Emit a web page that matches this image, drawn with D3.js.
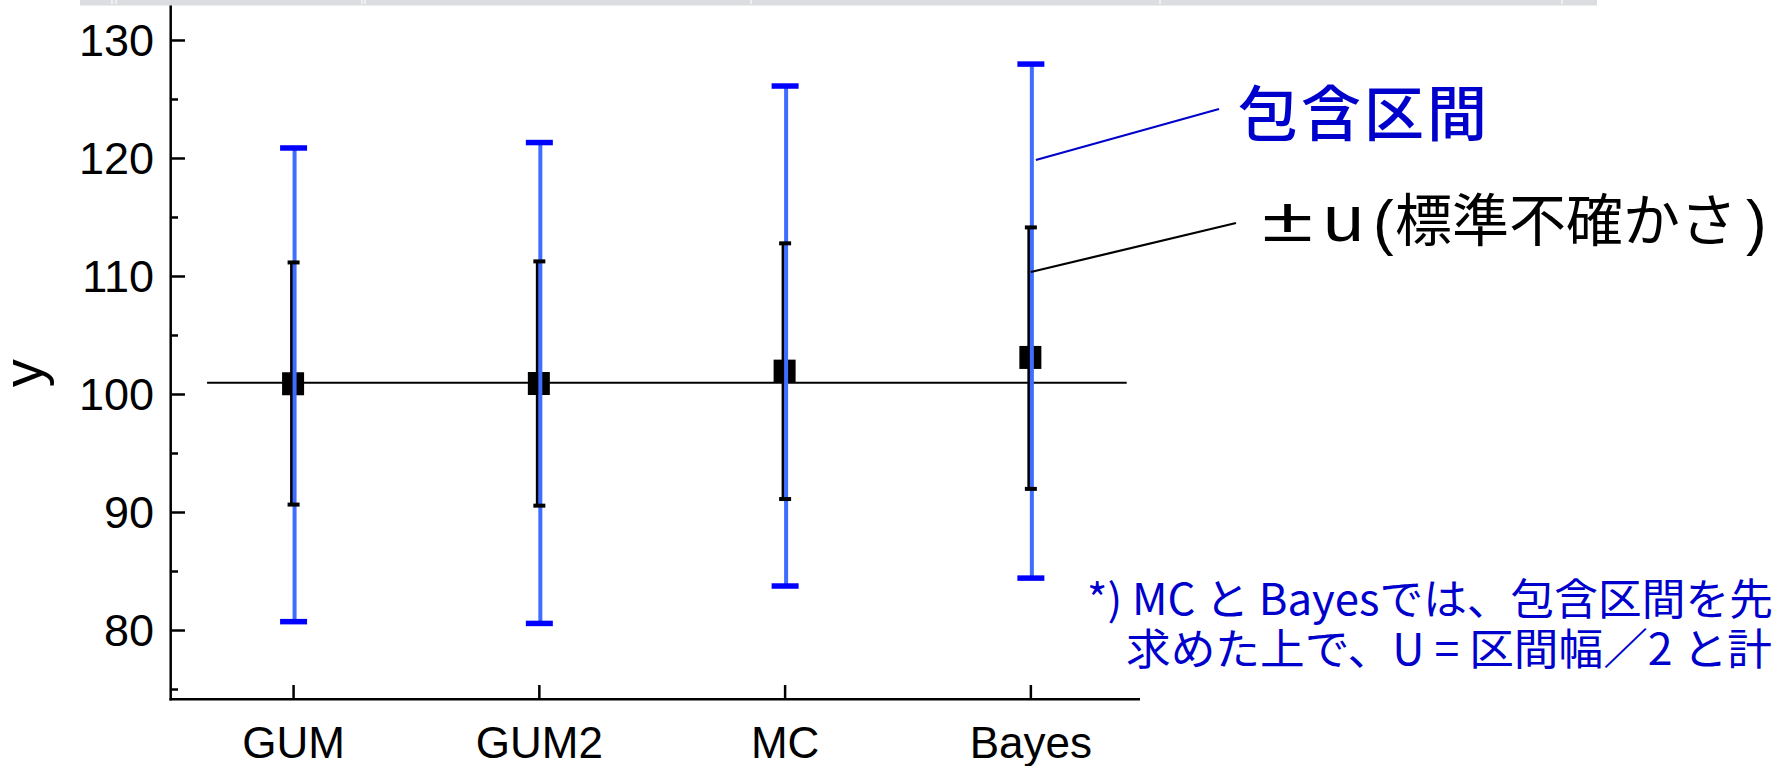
<!DOCTYPE html>
<html>
<head>
<meta charset="utf-8">
<script src="https://cdn.jsdelivr.net/npm/d3@7"></script>
<style>
  html, body { margin: 0; padding: 0; background: #fff; overflow: hidden; }
  svg { display: block; }
</style>
</head>
<body>
<script>
const methods = ["GUM", "GUM2", "MC", "Bayes"];
const estimate = [100.91, 100.93, 101.98, 103.14];
const uLow = [90.67, 90.58, 91.14, 92.0];
const uHigh = [111.19, 111.28, 112.81, 114.16];
const ciLow = [80.75, 80.6, 83.77, 84.44];
const ciHigh = [120.89, 121.35, 126.14, 128.0];
const trueValue = 101.0;
const yMajor = [80, 90, 100, 110, 120, 130];
const yMinor = [75, 85, 95, 105, 115, 125];

const W = 1774, H = 766;

const DATA = methods.map((m, i) => ({
  name: m, idx: i + 1, est: estimate[i],
  uLo: uLow[i], uHi: uHigh[i], ciLo: ciLow[i], ciHi: ciHigh[i]
}));

const x = d3.scaleLinear().domain([0.5, 4.44]).range([170.7, 1139]);
const y = d3.scaleLinear().domain([74.17, 133.43]).range([699.3, 0]);

const svg = d3.select("body").append("svg")
  .attr("width", W).attr("height", H);

const axisFont = "'Liberation Sans', Arial, sans-serif";
const cjkFont = "'Noto Sans CJK JP', sans-serif";

// true value line
svg.append("line")
  .attr("x1", x(0.648)).attr("x2", x(4.39))
  .attr("y1", y(trueValue)).attr("y2", y(trueValue))
  .attr("stroke", "#000").attr("stroke-width", 2);

// ±u bars (black)
svg.selectAll(".uline").data(DATA).enter().append("line")
  .attr("x1", d => x(d.idx) - 2).attr("x2", d => x(d.idx) - 2)
  .attr("y1", d => y(d.uHi)).attr("y2", d => y(d.uLo))
  .attr("stroke", "#000").attr("stroke-width", 3);

// markers
svg.selectAll(".dot").data(DATA).enter().append("rect")
  .attr("x", d => x(d.idx) - 11.5).attr("y", d => y(d.est) - 11.5)
  .attr("width", 22).attr("height", 23)
  .attr("fill", "#000");

// coverage interval lines (blue)
svg.selectAll(".ciline").data(DATA).enter().append("line")
  .attr("x1", d => x(d.idx) + 1).attr("x2", d => x(d.idx) + 1)
  .attr("y1", d => y(d.ciHi)).attr("y2", d => y(d.ciLo))
  .attr("stroke", "#3f6dff").attr("stroke-width", 4);

// caps
DATA.forEach(d => {
  [d.ciHi, d.ciLo].forEach(v => {
    svg.append("line")
      .attr("x1", x(d.idx) - 13.5).attr("x2", x(d.idx) + 13.5)
      .attr("y1", y(v)).attr("y2", y(v))
      .attr("stroke", "#0000ff").attr("stroke-width", 5.5);
  });
  [d.uHi, d.uLo].forEach(v => {
    svg.append("line")
      .attr("x1", x(d.idx) - 6).attr("x2", x(d.idx) + 6)
      .attr("y1", y(v)).attr("y2", y(v))
      .attr("stroke", "#000").attr("stroke-width", 4);
  });
});

// y axis
const yAxisG = svg.append("g");
yAxisG.append("line")
  .attr("x1", 170.7).attr("x2", 170.7).attr("y1", 0).attr("y2", 700.5)
  .attr("stroke", "#000").attr("stroke-width", 2.5);
yAxisG.selectAll(".maj").data(yMajor).enter().append("line")
  .attr("x1", 170.7).attr("x2", 185).attr("y1", d => y(d)).attr("y2", d => y(d))
  .attr("stroke", "#000").attr("stroke-width", 2.5);
yAxisG.selectAll(".min").data(yMinor).enter().append("line")
  .attr("x1", 170.7).attr("x2", 178).attr("y1", d => y(d)).attr("y2", d => y(d))
  .attr("stroke", "#000").attr("stroke-width", 2.5);
yAxisG.selectAll("text").data(yMajor).enter().append("text")
  .attr("x", 154).attr("y", d => y(d) + 15.5)
  .attr("text-anchor", "end")
  .style("font-family", axisFont).style("font-size", "45px")
  .text(d => d);

svg.append("text")
  .attr("transform", `translate(42, ${y(101.8)}) rotate(-90)`)
  .attr("text-anchor", "middle")
  .style("font-family", axisFont).style("font-size", "56px")
  .text("y");

// x axis
const xAxisG = svg.append("g");
xAxisG.append("line")
  .attr("x1", 169.5).attr("x2", 1140).attr("y1", 699.3).attr("y2", 699.3)
  .attr("stroke", "#000").attr("stroke-width", 2.5);
xAxisG.selectAll(".xt").data(DATA).enter().append("line")
  .attr("x1", d => x(d.idx)).attr("x2", d => x(d.idx))
  .attr("y1", 699.3).attr("y2", 685)
  .attr("stroke", "#000").attr("stroke-width", 2.5);
xAxisG.selectAll("text").data(DATA).enter().append("text")
  .attr("x", d => x(d.idx)).attr("y", 758)
  .attr("text-anchor", "middle")
  .style("font-family", axisFont).style("font-size", "44px")
  .text(d => d.name);

// annotations
const bx = x(4);
svg.append("line")
  .attr("x1", bx + 5).attr("y1", 160).attr("x2", 1219).attr("y2", 109)
  .attr("stroke", "#0000cc").attr("stroke-width", 2.2);
svg.append("text")
  .attr("x", 1238).attr("y", 136)
  .attr("fill", "#0000cc")
  .style("font-family", cjkFont).style("font-size", "60px")
  .style("font-weight", 500)
  .style("letter-spacing", "3px")
  .text("包含区間");

svg.append("line")
  .attr("x1", bx).attr("y1", 272).attr("x2", 1236).attr("y2", 223)
  .attr("stroke", "#000").attr("stroke-width", 2.2);

// "±u(標準不確かさ)" built from pieces to match the wide glyphs of the original
const uLabel = svg.append("g").attr("fill", "#000");
uLabel.append("text")
  .attr("transform", "translate(1262, 241) scale(1.5, 1)")
  .style("font-family", axisFont).style("font-size", "62px")
  .text("±");
uLabel.append("text")
  .attr("transform", "translate(1323, 241) scale(1.15, 1)")
  .style("font-family", axisFont).style("font-size", "64px")
  .text("u");
uLabel.append("text")
  .attr("x", 1373).attr("y", 243)
  .style("font-family", axisFont).style("font-size", "62px")
  .text("(");
uLabel.append("text")
  .attr("x", 1395).attr("y", 241)
  .style("font-family", cjkFont).style("font-size", "57px")
  .text("標準不確かさ");
uLabel.append("text")
  .attr("x", 1746).attr("y", 243)
  .style("font-family", axisFont).style("font-size", "62px")
  .text(")");

svg.append("text")
  .attr("x", 1087).attr("y", 615)
  .attr("fill", "#0000cc")
  .attr("textLength", 686).attr("lengthAdjust", "spacingAndGlyphs")
  .style("font-family", cjkFont).style("font-size", "43px")
  .text("*) MC と Bayesでは、包含区間を先");
svg.append("text")
  .attr("x", 1126).attr("y", 665)
  .attr("fill", "#0000cc")
  .attr("textLength", 646).attr("lengthAdjust", "spacingAndGlyphs")
  .style("font-family", cjkFont).style("font-size", "43px")
  .text("求めた上で、U = 区間幅／2 と計");

// grey header strip at the top
svg.append("rect")
  .attr("x", 80).attr("y", 0).attr("width", 1517).attr("height", 5.5)
  .attr("fill", "#dcdde0");
[112, 116, 362, 365, 751, 1160, 1562].forEach(sx => {
  svg.append("line")
    .attr("x1", sx).attr("x2", sx).attr("y1", 0).attr("y2", 4)
    .attr("stroke", "#f4f4f4").attr("stroke-width", 1.5);
});
</script>
</body>
</html>
